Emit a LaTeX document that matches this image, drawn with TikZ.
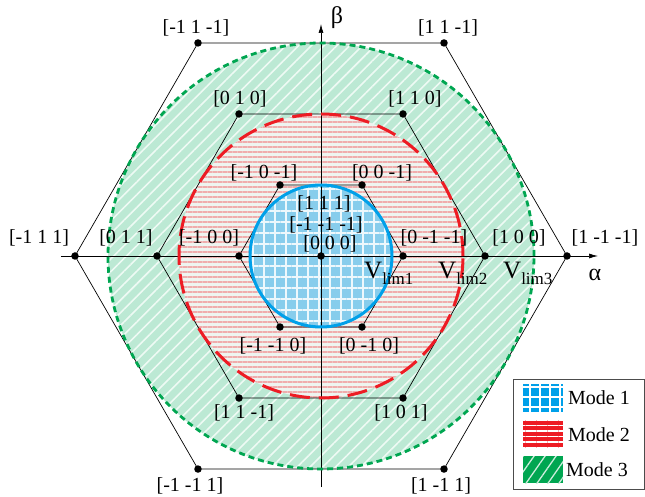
\documentclass[tikz,border=0pt]{standalone}
\usepackage{fontspec}
\setmainfont{Liberation Serif}
\usetikzlibrary{patterns.meta,arrows.meta}
\definecolor{gfill}{RGB}{188,233,212}
\definecolor{gline}{RGB}{0,166,81}
\definecolor{pfill}{RGB}{238,244,240}
\definecolor{pstripe}{RGB}{240,172,172}
\definecolor{rline}{RGB}{237,28,36}
\definecolor{bfill}{RGB}{135,205,236}
\definecolor{bline}{RGB}{0,160,233}
\begin{document}
\begin{tikzpicture}[x=1pt,y=1pt,
  lbl/.style={font=\fontsize{20}{22}\selectfont, inner sep=0pt},
  vdot/.style={circle,fill=black,inner sep=0pt,minimum size=7.5pt},
  hexline/.style={draw=black,line width=0.7pt},
  axisline/.style={line width=0.7pt,-{Latex[length=9pt,width=5pt]}},
  greenpat/.style={pattern={Lines[angle=45,distance=9pt,line width=1.6pt]},pattern color=white!75!gfill},
  pinkpat/.style={pattern={Lines[angle=0,distance=5pt,line width=2.8pt]},pattern color=pstripe},
  bluepat/.style={pattern={Hatch[angle=0,distance=11pt,line width=1.1pt]},pattern color=white!85!bfill},
  vlim/.style={inner sep=0pt,anchor=base west},
]
\useasboundingbox (-321,-241) rectangle (324,256);
% region fills
\fill[gfill] (0,0) circle[radius=213];
\fill[greenpat] (0,0) circle[radius=213];
\fill[pfill] (0,0) circle[radius=142];
\fill[pinkpat] (0,0) circle[radius=142];
\fill[bfill] (0,0) circle[radius=71];
\fill[bluepat] (0,0) circle[radius=71];
% vertices
\foreach \i in {0,...,5} {
  \coordinate (o\i) at (\i*60:246);
  \coordinate (m\i) at (\i*60:164);
  \coordinate (n\i) at (\i*60:82);
}
\coordinate (c) at (0,0);
% hexagons
\draw[hexline] (o0)--(o1)--(o2)--(o3)--(o4)--(o5)--cycle;
\draw[hexline] (m0)--(m1)--(m2)--(m3)--(m4)--(m5)--cycle;
\draw[hexline] (n0)--(n1)--(n2)--(n3)--(n4)--(n5)--cycle;
% axes
\coordinate (axl) at (-260,0);
\coordinate (axr) at (277,0);
\coordinate (ayb) at (0,-231);
\coordinate (ayt) at (0,232);
\draw[axisline] (axl) -- (axr);
\draw[axisline] (ayb) -- (ayt);
% circle outlines
\draw[gline,line width=2.8pt,dash pattern=on 6pt off 4pt] (c) circle[radius=213];
\draw[rline,line width=3pt,dash pattern=on 20pt off 9pt] (c) circle[radius=142];
\draw[bline,line width=3pt] (c) circle[radius=71];
% dots
\foreach \i in {0,...,5} {
  \node[vdot] (od\i) at (o\i) {};
  \node[vdot] (md\i) at (m\i) {};
  \node[vdot] (nd\i) at (n\i) {};
}
\node[vdot] (cd) at (c) {};
% outer labels
\node[lbl] (lo2) at (-125,228) {[-1 1 -1]};
\node[lbl] (lo1) at (127,228) {[1 1 -1]};
\node[lbl] (lo3) at (-282,18) {[-1 1 1]};
\node[lbl] (lo0) at (284,18) {[1 -1 -1]};
\node[lbl] (lo4) at (-131,-230) {[-1 -1 1]};
\node[lbl] (lo5) at (120,-230) {[1 -1 1]};
% middle labels
\node[lbl] (lm2) at (-81,157) {[0 1 0]};
\node[lbl] (lm1) at (94,157) {[1 1 0]};
\node[lbl] (lm3) at (-195,18) {[0 1 1]};
\node[lbl] (lm0) at (198,18) {[1 0 0]};
\node[lbl] (lm4) at (-77,-157) {[1 1 -1]};
\node[lbl] (lm5) at (80,-157) {[1 0 1]};
% inner labels
\node[lbl] (ln2) at (-57,83) {[-1 0 -1]};
\node[lbl] (ln1) at (61,83) {[0 0 -1]};
\node[lbl] (ln3) at (-112,18) {[-1 0 0]};
\node[lbl] (ln0) at (113,18) {[0 -1 -1]};
\node[lbl] (ln4) at (-48,-90) {[-1 -1 0]};
\node[lbl] (ln5) at (48,-90) {[0 -1 0]};
% center labels
\node[lbl] (lc1) at (3,52) {[1 1 1]};
\node[lbl] (lc2) at (5,31) {[-1 -1 -1]};
\node[lbl] (lc3) at (9,12) {[0 0 0]};
% limits
\node[vlim] (v1) at (43,-23) {\fontsize{25}{25}\selectfont V\raisebox{-6pt}{\fontsize{17}{17}\selectfont lim1}};
\node[vlim] (v2) at (117,-23) {\fontsize{25}{25}\selectfont V\raisebox{-6pt}{\fontsize{17}{17}\selectfont lim2}};
\node[vlim] (v3) at (182,-23) {\fontsize{25}{25}\selectfont V\raisebox{-6pt}{\fontsize{17}{17}\selectfont lim3}};
% axis labels
\node[lbl,font=\fontsize{24}{24}\selectfont] (alpha) at (274,-19) {α};
\node[lbl,font=\fontsize{24}{24}\selectfont] (beta) at (16,238) {β};
% legend
\node[draw=black!70,line width=0.8pt,minimum width=131pt,minimum height=110pt,inner sep=0pt] (legend) at (257.5,-178) {};
\fill[bline] (202,-156) rectangle (242,-128);
\fill[pattern={Hatch[angle=0,distance=10pt,line width=1.5pt]},pattern color=white] (202,-156) rectangle (242,-128);
\fill[rline] (202,-192) rectangle (242,-164);
\fill[pattern={Lines[angle=0,distance=5.5pt,line width=1.5pt]},pattern color=white] (202,-192) rectangle (242,-164);
\fill[gline] (202,-227) rectangle (242,-200);
\fill[pattern={Lines[angle=55,distance=9pt,line width=1.3pt]},pattern color=white!80!gline] (202,-227) rectangle (242,-200);
\node[lbl,anchor=west] (t1) at (247,-142) {Mode 1};
\node[lbl,anchor=west] (t2) at (247,-179) {Mode 2};
\node[lbl,anchor=west] (t3) at (245,-214) {Mode 3};
\end{tikzpicture}
\end{document}
